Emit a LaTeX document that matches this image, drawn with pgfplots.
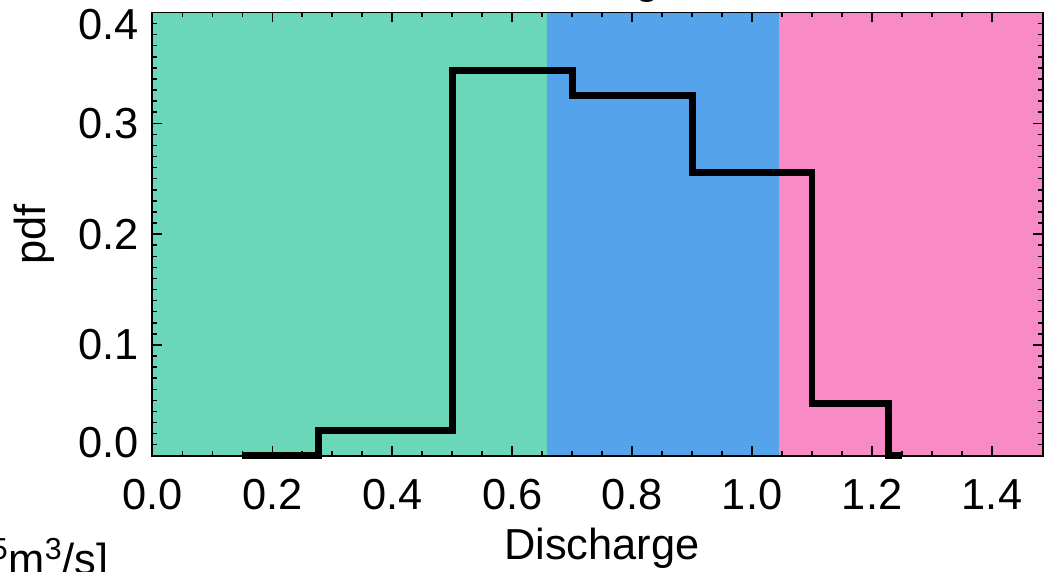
\documentclass[border=0pt]{standalone}
\usepackage{pgfplots}
\pgfplotsset{compat=1.18}
\usepackage{fontspec}
\setmainfont{Liberation Sans}
\definecolor{cgreen}{RGB}{106,216,184}
\definecolor{cblue}{RGB}{85,163,235}
\definecolor{cpink}{RGB}{248,138,198}
\newcommand{\bigf}{\fontsize{21.7}{26}\selectfont}
\begin{document}
\bigf
\begin{tikzpicture}
\begin{axis}[
  scale only axis, width=445.35pt, height=221.65pt,
  xmin=0, xmax=1.485, ymin=0, ymax=0.4,
  axis on top, clip=false,
  xtick={0,0.2,0.4,0.6,0.8,1.0,1.2,1.4},
  xticklabels={0.0,0.2,0.4,0.6,0.8,1.0,1.2,1.4},
  ytick={0,0.1,0.2,0.3,0.4},
  yticklabels={\raisebox{6.5pt}[\height][\depth]{0.0},0.1,0.2,0.3,\raisebox{-6pt}[\height][\depth]{0.4}},
  minor x tick num=3, minor y tick num=9,
  tick align=inside, xtick pos=both, ytick pos=both,
  major tick length=5pt, minor tick length=2.3pt,
  every tick/.style={black, line width=0.75pt},
  axis line style={line width=0.9pt},
  tick label style={font=\bigf},
  xticklabel style={yshift=-4.3pt},
  yticklabel style={xshift=0.5pt},
  label style={font=\bigf},
  xlabel={Discharge},
  xlabel style={at={(axis description cs:0.5049,0)}, anchor=base, yshift=-52pt},
  ylabel={pdf},
  ylabel style={at={(axis description cs:-0.1201,0.5)}, anchor=base},
]
\addplot[fill=cgreen, draw=none] coordinates {(0,0) (0.658,0) (0.658,0.4) (0,0.4)} --cycle;
\addplot[fill=cblue, draw=none] coordinates {(0.658,0) (1.0445,0) (1.0445,0.4) (0.658,0.4)} --cycle;
\addplot[fill=cpink, draw=none] coordinates {(1.0445,0) (1.485,0) (1.485,0.4) (1.0445,0.4)} --cycle;
\addplot[const plot, black, line width=3.4pt] coordinates {
  (0.15,0) (0.277,0.023) (0.5,0.348) (0.7,0.325) (0.9,0.2555) (1.1,0.047) (1.228,0) (1.25,0)};
\node[anchor=base, font=\bigf, yshift=9.25pt] at (axis cs:0.723,0.4) {Discharge};
\node[anchor=base east, inner sep=0pt, font=\bigf, yshift=-59.6pt] at (axis cs:-0.072,0) {[10\textsuperscript{5}m\textsuperscript{3}/s]};
\coordinate (sw) at (rel axis cs:0,0);
\coordinate (ne) at (rel axis cs:1,1);
\end{axis}
\pgfresetboundingbox
\path[use as bounding box] ([xshift=-76.15pt,yshift=-58.1pt]sw) rectangle ([xshift=0.5pt,yshift=6.25pt]ne);
\end{tikzpicture}
\end{document}
